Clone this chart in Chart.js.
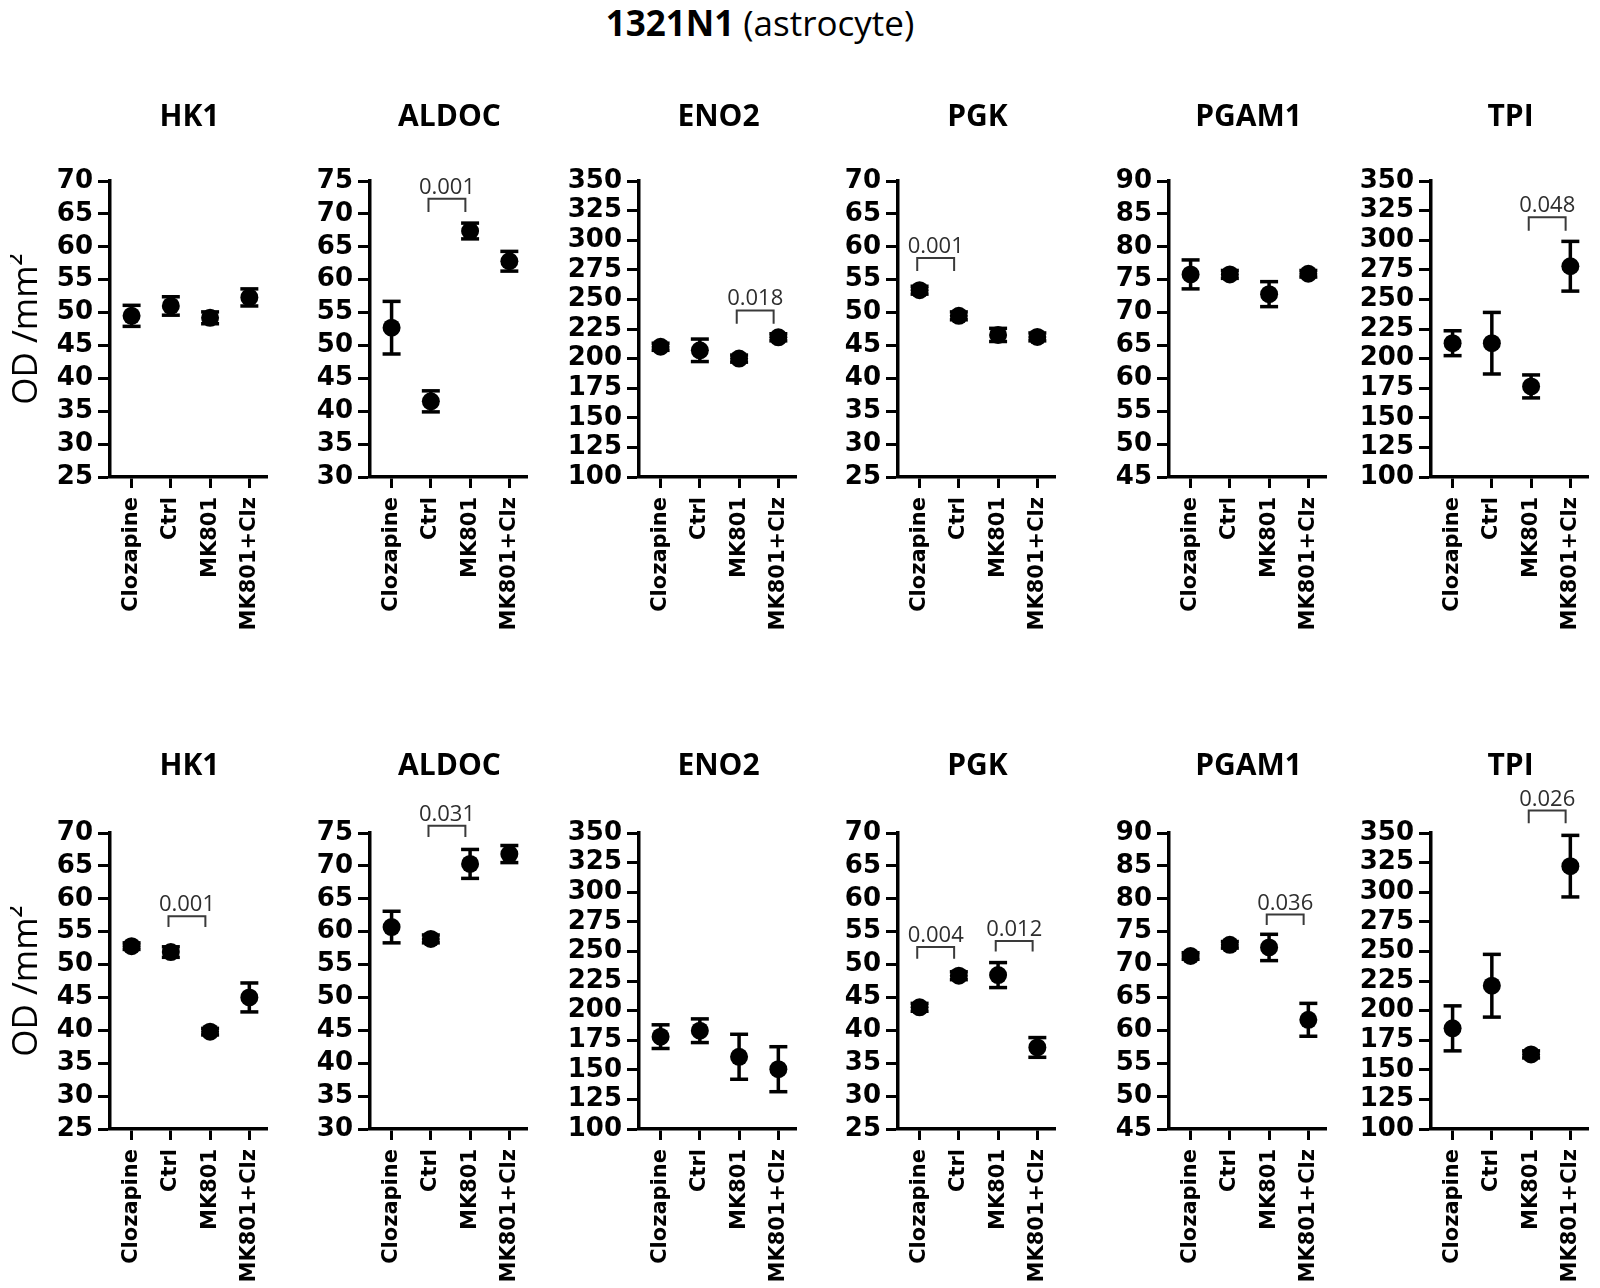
<!DOCTYPE html>
<html><head><meta charset="utf-8">
<script src="https://cdn.jsdelivr.net/npm/chart.js@4.4.1/dist/chart.umd.min.js"></script>
<style>
html,body{margin:0;padding:0;background:#fff;}
body{width:1600px;height:1288px;position:relative;overflow:hidden;}
canvas{position:absolute;}
#title{position:absolute;left:460px;top:3px;width:600px;text-align:center;font-family:"Open Sans";font-size:35px;line-height:40px;color:#000;white-space:nowrap;}
#title b{font-weight:700;}
</style></head><body>
<div id="title"><b>1321N1</b> (astrocyte)</div>
<script>
// ---------- data ----------
const categories = ['Clozapine', 'Ctrl', 'MK801', 'MK801+Clz'];
const genes = ['HK1', 'ALDOC', 'ENO2', 'PGK', 'PGAM1', 'TPI'];
const yMins  = [25, 30, 100, 25, 45, 100];
const yMaxs  = [70, 75, 350, 70, 90, 350];
const ySteps = [5, 5, 25, 5, 5, 25];

const topMeans = [
  [49.5, 51.0, 49.2, 52.3],
  [52.7, 41.5, 67.4, 62.8],
  [210, 207, 200, 218],
  [53.4, 49.5, 46.6, 46.3],
  [75.8, 75.8, 72.8, 75.9],
  [213, 213, 176.5, 278]
];
const topErrors = [
  [1.6, 1.4, 0.9, 1.3],
  [4.0, 1.6, 1.2, 1.5],
  [3, 9.5, 3, 3],
  [0.6, 0.6, 1.0, 0.6],
  [2.2, 0.6, 1.9, 0.5],
  [10.5, 26, 9.7, 21]
];
const bottomMeans = [
  [52.8, 51.9, 39.8, 45.0],
  [60.7, 58.9, 70.3, 71.8],
  [178, 183, 161, 150.5],
  [43.5, 48.3, 48.4, 37.4],
  [71.3, 73.0, 72.6, 61.6],
  [185, 221, 163, 322]
];
const bottomErrors = [
  [0.5, 0.8, 0.5, 2.2],
  [2.4, 0.6, 2.2, 1.3],
  [10, 10, 19, 19],
  [0.6, 0.6, 1.9, 1.5],
  [0.5, 0.5, 2.0, 2.5],
  [19, 26.5, 3, 26]
];
// significance brackets: gene index, from/to category, top and leg-end values, p label
const topBrackets = [
  {gene: 1, from: 1, to: 2, top: 72.3, leg: 70.3, p: '0.001'},
  {gene: 2, from: 2, to: 3, top: 240.7, leg: 229.4, p: '0.018'},
  {gene: 3, from: 0, to: 1, top: 58.3, leg: 56.3, p: '0.001'},
  {gene: 5, from: 2, to: 3, top: 319.4, leg: 308, p: '0.048'}
];
const bottomBrackets = [
  {gene: 0, from: 1, to: 2, top: 57.35, leg: 55.7, p: '0.001'},
  {gene: 1, from: 1, to: 2, top: 76.1, leg: 74.4, p: '0.031'},
  {gene: 3, from: 0, to: 1, top: 52.65, leg: 50.9, p: '0.004'},
  {gene: 3, from: 2, to: 3, top: 53.6, leg: 52.0, p: '0.012'},
  {gene: 4, from: 2, to: 3, top: 77.6, leg: 76.0, p: '0.036'},
  {gene: 5, from: 2, to: 3, top: 369, leg: 358.2, p: '0.026'}
];

// ---------- layout (style, not data) ----------
const axisLeft = [110, 370, 639, 898, 1169, 1431];
const rowTop = [181, 833];
const titleGap = [64, 67];
const plotW = 157, plotH = 296;
const padTop = 120, yAxisW = 100, xAxisH = 160, padRight = 30;
const insetL = 0.06, insetR = 0.12;

const textPlugin = {
  id: 'panelText',
  afterDraw(chart) {
    const o = chart.options.plugins.panelText;
    const {ctx, chartArea, scales} = chart;
    ctx.save();
    ctx.fillStyle = '#000';
    ctx.font = 'bold 30px "Open Sans"';
    ctx.textAlign = 'center';
    ctx.textBaseline = 'middle';
    ctx.fillText(o.title, (chartArea.left + chartArea.right) / 2 + 1, chartArea.top - o.gap);
    ctx.font = '22px "Open Sans"';
    ctx.fillStyle = '#2e2e2e';
    ctx.textBaseline = 'alphabetic';
    o.brackets.forEach(b => {
      const x = (scales.x.getPixelForValue(b.from - insetL) + scales.x.getPixelForValue(b.to - insetR)) / 2;
      const y = scales.y.getPixelForValue(b.top) - 5;
      ctx.fillText(b.p, x, y);
    });
    ctx.restore();
  }
};

function makePanel(row, g, means, errs, brackets) {
  const canvas = document.createElement('canvas');
  const W = yAxisW + plotW + padRight, H = padTop + plotH + xAxisH;
  canvas.width = W; canvas.height = H;
  canvas.style.left = (axisLeft[g] - yAxisW) + 'px';
  canvas.style.top = (rowTop[row] - padTop) + 'px';
  canvas.style.width = W + 'px'; canvas.style.height = H + 'px';
  document.body.appendChild(canvas);

  const errLine = [];
  means.forEach((m, i) => {
    errLine.push({x: i, y: m - errs[i]}, {x: i, y: m + errs[i]}, {x: i, y: null});
  });
  const datasets = [
    {data: means.map((m, i) => ({x: i, y: m})), showLine: false, pointStyle: 'circle',
     pointRadius: 9, pointBackgroundColor: '#000', pointBorderWidth: 0, order: 1},
    {data: errLine, borderColor: '#000', borderWidth: 3.5, pointRadius: 0, spanGaps: false, order: 4},
    {data: means.map((m, i) => ({x: i, y: m + errs[i]})), showLine: false, pointStyle: 'line',
     pointRadius: 9, pointBorderWidth: 3.5, pointBorderColor: '#000', order: 3},
    {data: means.map((m, i) => ({x: i, y: m - errs[i]})), showLine: false, pointStyle: 'line',
     pointRadius: 9, pointBorderWidth: 3.5, pointBorderColor: '#000', order: 3}
  ];
  brackets.forEach(b => {
    const x1 = b.from - insetL, x2 = b.to - insetR;
    datasets.push({data: [{x: x1, y: b.leg}, {x: x1, y: b.top}, {x: x2, y: b.top}, {x: x2, y: b.leg}],
      borderColor: '#3a3a3a', borderWidth: 2, pointRadius: 0, clip: false, order: 0});
  });

  new Chart(canvas, {
    type: 'line',
    data: {datasets},
    options: {
      responsive: false, animation: false, events: [],
      devicePixelRatio: 1,
      layout: {padding: {top: padTop, right: padRight, left: 0, bottom: 0}},
      plugins: {legend: {display: false}, tooltip: {enabled: false}, title: {display: false},
        panelText: {title: genes[g], gap: titleGap[row], brackets}},
      scales: {
        x: {
          type: 'linear', min: -0.55, max: 3.45,
          afterBuildTicks: s => { s.ticks = categories.map((c, i) => ({value: i})); },
          afterFit: s => { s.height = xAxisH; },
          ticks: {autoSkip: false, minRotation: 90, maxRotation: 90, padding: 9, color: '#000',
            font: {family: 'DejaVu Sans', weight: 'bold', size: 21},
            callback: v => categories[v]},
          grid: {display: true, drawOnChartArea: false, drawTicks: true, tickLength: 11, tickWidth: 3, tickColor: '#000', offset: false},
          border: {display: true, color: '#000', width: 3.5}
        },
        y: {
          type: 'linear', min: yMins[g], max: yMaxs[g],
          afterFit: s => { s.width = yAxisW; },
          ticks: {stepSize: ySteps[g], autoSkip: false, padding: 5, color: '#000',
            font: {family: 'DejaVu Sans', weight: 'bold', size: 26}},
          grid: {display: true, drawOnChartArea: false, drawTicks: true, tickLength: 12, tickWidth: 3, tickColor: '#000'},
          border: {display: true, color: '#000', width: 3.5},
          title: {display: g === 0, text: 'OD /mm²', color: '#000', padding: 0,
            font: {family: 'Open Sans', size: 35, lineHeight: 1}}
        }
      }
    },
    plugins: [textPlugin]
  });
}

genes.forEach((name, g) => {
  makePanel(0, g, topMeans[g], topErrors[g], topBrackets.filter(b => b.gene === g));
  makePanel(1, g, bottomMeans[g], bottomErrors[g], bottomBrackets.filter(b => b.gene === g));
});
</script>
</body></html>
